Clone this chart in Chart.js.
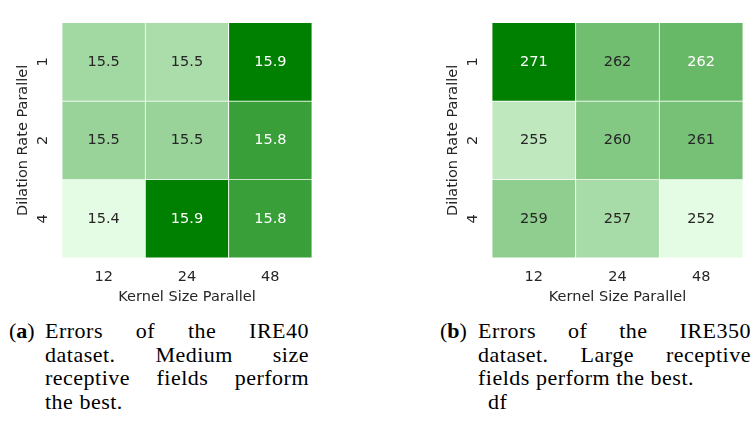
<!DOCTYPE html>
<html>
<head>
<meta charset="utf-8">
<script src="https://cdn.jsdelivr.net/npm/chart.js@4"></script>
<style>
  html, body { margin: 0; padding: 0; background: #fff; }
  body { width: 754px; height: 444px; position: relative; overflow: hidden; }
  .panel { position: absolute; top: 0; width: 377px; height: 310px; }
  .cap { position: absolute; top: 319px; font-family: "Liberation Serif", "Times New Roman", serif;
         font-size: 22px; line-height: 23.5px; letter-spacing: 0.5px; color: #000; }
  .cap .tag { position: absolute; left: 0; top: 0; white-space: nowrap; letter-spacing: 0; }
  .cap .tag b { font-weight: bold; }
  .cap .line { position: absolute; text-align: justify; text-align-last: justify; white-space: normal; }
  .cap .line.last { text-align: left; text-align-last: left; white-space: nowrap; }
</style>
</head>
<body>
<canvas id="ire40" class="panel" width="377" height="310" style="left:0"></canvas>
<canvas id="ire350" class="panel" width="377" height="310" style="left:377px"></canvas>

<div class="cap" style="left:9px; width:300px;">
  <span class="tag">(<b>a</b>)</span>
  <div class="line" style="left:36px; top:0; width:264px;">Errors of the IRE40</div>
  <div class="line" style="left:36px; top:23.5px; width:264px;">dataset. Medium size</div>
  <div class="line" style="left:36px; top:47px; width:264px;">receptive fields perform</div>
  <div class="line last" style="left:36px; top:70.5px;">the best.</div>
</div>
<div class="cap" style="left:440px; width:311px;">
  <span class="tag">(<b>b</b>)</span>
  <div class="line" style="left:38px; top:0; width:273px;">Errors of the IRE350</div>
  <div class="line" style="left:38px; top:23.5px; width:273px;">dataset. Large receptive</div>
  <div class="line last" style="left:38px; top:47px;">fields perform the best.</div>
  <div class="line last" style="left:48px; top:70.5px;">df</div>
</div>

<script>
// Grid axes
const kernelSizes = ['12', '24', '48'];
const dilationRates = ['1', '2', '4'];

// Errors per dilation rate (rows) and kernel size (columns)
const ire40Errors = [
  [15.52, 15.50, 15.89],
  [15.54, 15.54, 15.76],
  [15.37, 15.89, 15.76]
];
const ire350Errors = [
  [271, 261.55, 262.4],
  [255, 260, 261],
  [259, 257, 252]
];

// Light-green to green colour ramp
const RAMP_LIGHT = [227, 252, 227];
const RAMP_DARK = [0, 128, 0];
function rampColor(t) {
  return RAMP_LIGHT.map((c, i) => Math.round(c + (RAMP_DARK[i] - c) * t));
}
function luminance(rgb) {
  const f = c => { c /= 255; return c <= 0.03928 ? c / 12.92 : Math.pow((c + 0.055) / 1.055, 2.4); };
  return 0.2126 * f(rgb[0]) + 0.7152 * f(rgb[1]) + 0.0722 * f(rgb[2]);
}

const TEXT = '#262626';
const SANS = 'DejaVu Sans';
const FONT_SIZE = 14.5;

// Writes each cell's value in its centre, dark on light cells and white on dark ones
const cellLabels = {
  id: 'cellLabels',
  afterDatasetsDraw(chart, args, opts) {
    const ctx = chart.ctx;
    ctx.save();
    ctx.font = FONT_SIZE + 'px "' + SANS + '"';
    ctx.textAlign = 'center';
    ctx.textBaseline = 'middle';
    chart.data.datasets.forEach((ds, di) => {
      chart.getDatasetMeta(di).data.forEach((bar, i) => {
        const v = ds.errors[i];
        const p = bar.getCenterPoint();
        ctx.fillStyle = luminance(ds.cellRgb[i]) > 0.408 ? TEXT : '#ffffff';
        ctx.fillText(v.toFixed(opts.decimals), p.x, p.y);
      });
    });
    ctx.restore();
  }
};

function heatmap(id, values, decimals, padLeft, padRight) {
  const flat = values.flat();
  const vmin = Math.min(...flat);
  const vmax = Math.max(...flat);
  const datasets = dilationRates.map((rate, r) => {
    const rgb = values[r].map(v => rampColor((v - vmin) / (vmax - vmin)));
    return {
      label: rate,
      data: kernelSizes.map(() => 1),
      errors: values[r],
      cellRgb: rgb,
      backgroundColor: rgb.map(c => 'rgb(' + c.join(',') + ')'),
      borderColor: '#ffffff',
      borderWidth: 0.75,
      borderSkipped: false,
      barPercentage: 1,
      categoryPercentage: 1,
      stack: 'grid'
    };
  });
  const font = { family: SANS, size: FONT_SIZE };
  return new Chart(document.getElementById(id), {
    type: 'bar',
    data: { labels: kernelSizes, datasets },
    plugins: [cellLabels],
    options: {
      responsive: false,
      animation: false,
      devicePixelRatio: 1,
      layout: { padding: { top: 8, left: padLeft, right: padRight, bottom: 0 } },
      plugins: {
        legend: { display: false },
        tooltip: { enabled: false },
        cellLabels: { decimals }
      },
      scales: {
        x: {
          type: 'category',
          stacked: true,
          offset: true,
          grid: { display: false, drawTicks: false },
          border: { display: false },
          ticks: { color: TEXT, font, padding: 11, maxRotation: 0 },
          title: { display: true, text: 'Kernel Size Parallel', color: TEXT, font, padding: { top: 0, bottom: 4 } },
          afterFit: s => { s.height = 52; }
        },
        y: {
          type: 'linear',
          stacked: true,
          min: 0,
          max: dilationRates.length,
          reverse: true,
          grid: { display: false, drawTicks: false },
          border: { display: false },
          afterBuildTicks: s => { s.ticks = dilationRates.map((_, r) => ({ value: r + 0.5 })); },
          ticks: {
            color: TEXT, font, padding: 14,
            minRotation: 90, maxRotation: 90, crossAlign: 'center',
            callback: (v, i) => dilationRates[i]
          },
          title: { display: true, text: 'Dilation Rate Parallel', color: TEXT, font, padding: { top: 15, bottom: 0 } },
          afterFit: s => { s.width = 62; }
        }
      }
    }
  });
}

heatmap('ire40', ire40Errors, 1, 0, 65);
heatmap('ire350', ire350Errors, 0, 53, 11);
</script>
</body>
</html>
